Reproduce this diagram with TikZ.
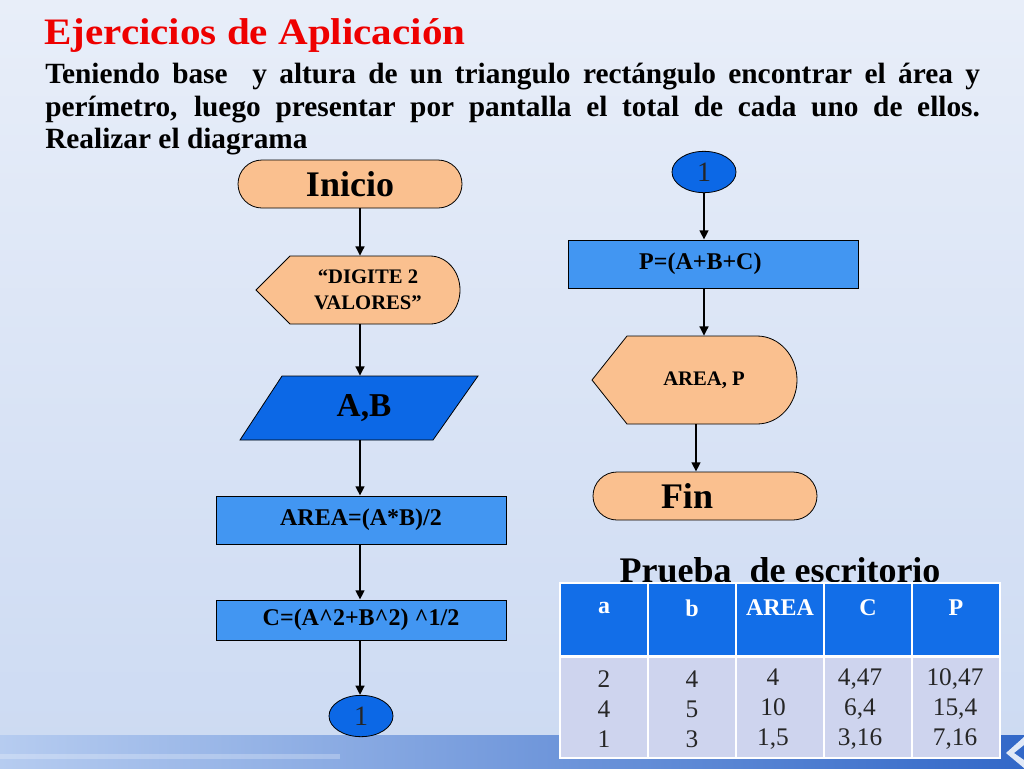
\documentclass[tikz,border=0pt]{standalone}
\usepackage{fontspec}
\setmainfont{Liberation Serif}
\newfontfamily\titlefont[FakeStretch=1.1]{Liberation Serif}
\usetikzlibrary{arrows.meta,shapes.misc,shapes.geometric,positioning}
\definecolor{peach}{RGB}{250,192,143}
\definecolor{deepblue}{RGB}{12,104,230}
\definecolor{boxblue}{RGB}{66,150,242}
\definecolor{headblue}{RGB}{18,110,232}
\definecolor{cellgray}{RGB}{206,212,238}
\definecolor{titlered}{RGB}{238,0,0}
\definecolor{bgtop}{RGB}{232,238,249}
\definecolor{bgbottom}{RGB}{204,218,242}
\definecolor{bandleft}{RGB}{182,204,240}
\definecolor{bandright}{RGB}{50,104,200}
\definecolor{chevron}{RGB}{225,233,247}

\begin{document}
\begin{tikzpicture}[x=0.75pt,y=0.75pt,yscale=-1,xscale=1,
  flow/.style={line width=2pt,-{Triangle[length=7pt,width=6.5pt]}},
  termbox/.style={rounded rectangle,draw,fill=peach,line width=0.6pt,minimum width=168pt,minimum height=36pt,inner sep=0pt,font=\bfseries\fontsize{27}{30}\selectfont},
  procbox/.style={rectangle,draw,fill=boxblue,line width=0.6pt,minimum width=217.5pt,inner sep=0pt,font=\bfseries\fontsize{18}{20}\selectfont},
  conn/.style={ellipse,draw,fill=deepblue,line width=0.6pt,minimum width=48pt,minimum height=31pt,inner sep=0pt,text=black!85,font=\fontsize{21}{24}\selectfont},
  shapetext/.style={inner sep=0pt,align=center,font=\bfseries\fontsize{15.5}{19.5}\selectfont},
  headtext/.style={inner sep=0pt,text=white,font=\bfseries\fontsize{18}{20}\selectfont},
  celltext/.style={inner sep=0pt,align=center,text=black!85,font=\fontsize{19}{22.5}\selectfont}]
\useasboundingbox (0,0) rectangle (1024,768);

%background
\shade[top color=bgtop,bottom color=bgbottom] (0,0) rectangle (1024,768);
\shade[left color=bandleft,right color=bandright] (0,735) rectangle (1024,768);
\fill[white,opacity=0.25] (0,754) rectangle (340,759);
\fill[chevron] (1024,737) -- (1006,753) -- (1024,768) -- (1024,760) -- (1014,753) -- (1024,745) -- cycle;

% heading
\node[anchor=base west,inner sep=0pt,text=titlered,font=\titlefont\bfseries\fontsize{28}{32}\selectfont] (title) at (44,44) {Ejercicios de Aplicación};
\node[anchor=north west,inner sep=0pt,text width=701pt,align=justify,font=\bfseries\fontsize{22}{24.5}\selectfont] (task) at (45,63) {Teniendo base~ y altura de un triangulo rectángulo encontrar el área y\linebreak perímetro, luego presentar por pantalla el total de cada uno de ellos.\linebreak Realizar el diagrama};

% shapes drawn directly
\draw[fill=peach,line width=0.6pt] (256,290) -- (290,256) -- (430,256) arc[start angle=-90,end angle=90,x radius=30,y radius=34] -- (290,324) -- cycle;
\draw[fill=deepblue,line width=0.6pt] (282,376) -- (478,376) -- (433,440) -- (240,440) -- cycle;
\draw[fill=peach,line width=0.6pt] (592,380) -- (627,336) -- (757,336) arc[start angle=-90,end angle=90,x radius=40,y radius=44] -- (627,424) -- cycle;

% left column
\node[termbox] (ini) at (350,184) {Inicio};
\node[shapetext,minimum height=51pt] (dig) at (368,290) {“DIGITE 2\\VALORES”};
\node[inner sep=0pt,minimum height=48pt,font=\bfseries\fontsize{25}{30}\selectfont] (ab) at (364,408) {A,B};
\node[procbox,minimum height=36pt] (area) at (361,520) {AREA=(A*B)/2};
\node[procbox,minimum height=30pt] (cval) at (361,620) {C=(A\textasciicircum 2+B\textasciicircum 2) \textasciicircum 1/2};
\node[conn] (con1) at (361,716) {1};

% right column
\node[conn] (con2) at (704,172) {1};
\node[procbox,minimum height=36pt] (per) at (713,264) {P=(A+B+C)\kern19pt};
\node[shapetext,minimum height=66pt] (out) at (704,380) {AREA, P};
\node[termbox] (fin) at (705,496) {Fin\kern27pt};

% arrows
\coordinate (colL) at (360,0);
\coordinate (colR) at (704,0);
\coordinate (colF) at (696,0);
\foreach \a/\b in {ini/dig,dig/ab,ab/area,area/cval,cval/con1}
  \draw[flow] (\a.south -| colL) -- (\b.north -| colL);
\foreach \a/\b in {con2/per,per/out}
  \draw[flow] (\a.south -| colR) -- (\b.north -| colR);
\draw[flow] (out.south -| colF) -- (fin.north -| colF);

% desk check table
\node[anchor=base,inner sep=0pt,font=\bfseries\fontsize{27}{30}\selectfont] (ttl) at (780,582) {Prueba~ de escritorio};
\fill[headblue] (560,583) rectangle (1000,656);
\fill[cellgray] (560,656) rectangle (1000,758);
\draw[white,line width=2.2pt] (560,656.5) -- (1000,656.5);
\foreach \x in {648,736,824,912}
  \draw[white,line width=1.5pt] (\x,583) -- (\x,758);
\draw[white,line width=1.5pt] (560,583) rectangle (1000,758);
\foreach \x/\t in {604/a,692/b,780/AREA,868/C,956/P}
  \node[headtext] (h-\t) at (\x,608) {\t};
\node[celltext] (c-a) at (604,709) {2\\4\\1};
\node[celltext] (c-b) at (692,709) {4\\5\\3};
\node[celltext] (c-area) at (773,709) {4\\10\\1,5};
\node[celltext] (c-c) at (860,709) {4,47\\6,4\\3,16};
\node[celltext] (c-p) at (955,709) {10,47\\15,4\\7,16};
\end{tikzpicture}
\end{document}
